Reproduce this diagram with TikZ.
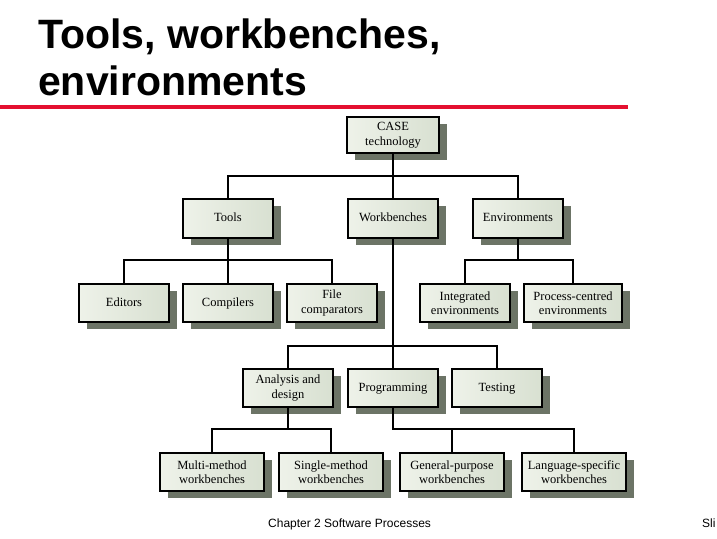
\documentclass[tikz,border=0pt]{standalone}
\usepackage{fontspec}
\setmainfont{Liberation Serif}
\newfontfamily\sansfont{Liberation Sans}
\usetikzlibrary{shadows}
\definecolor{boxL}{RGB}{238,242,233}
\definecolor{boxR}{RGB}{216,224,209}
\definecolor{shadowc}{RGB}{108,116,102}
\definecolor{titlered}{RGB}{228,16,48}
\tikzset{
  box/.style={draw=black, line width=1.3pt, left color=boxL, right color=boxR,
    minimum height=38pt, inner sep=2pt, align=center,
    font=\fontsize{12.5}{14.5}\selectfont,
    drop shadow={shadow xshift=8pt, shadow yshift=-7pt, fill=shadowc, opacity=1}},
  oneline/.style={text height=9pt, text depth=2.5pt},
  conn/.style={draw=black, line width=1.3pt},
  titletext/.style={anchor=base west, inner sep=0pt, font=\sansfont\bfseries\fontsize{41}{47}\selectfont},
  foot/.style={anchor=base west, inner sep=0pt, font=\sansfont\fontsize{12}{14}\selectfont}
}
\begin{document}
\begin{tikzpicture}[x=1pt,y=-1pt]
\useasboundingbox (0,0) rectangle (717,538);
\fill[white] (0,0) rectangle (717,538);
% title
\node[titletext] (t1) at (38,48) {Tools, workbenches,};
\node[titletext] (t2) at (38,95) {environments};
\fill[titlered] (0,105) rectangle (628,109);
% boxes
\node[box, minimum width=92pt, minimum height=36pt] (case) at (393,135) {CASE\\technology};
\node[box, oneline, minimum width=90pt, minimum height=39pt] (tools) at (228,218.5) {Tools};
\node[box, oneline, minimum width=90pt, minimum height=39pt] (wb) at (393,218.5) {Workbenches};
\node[box, oneline, minimum width=90pt, minimum height=39pt] (env) at (518,218.5) {Environments};
\node[box, oneline, minimum width=90pt] (editors) at (124,303) {Editors};
\node[box, oneline, minimum width=90pt] (comp) at (228,303) {Compilers};
\node[box, minimum width=90pt] (filec) at (332,303) {File\\comparators};
\node[box, minimum width=90pt] (integ) at (465,303) {Integrated\\environments};
\node[box, minimum width=98pt] (proc) at (573,303) {Process-centred\\environments};
\node[box, minimum width=90pt] (anal) at (288,388) {Analysis and\\design};
\node[box, oneline, minimum width=90pt] (prog) at (393,388) {Programming};
\node[box, oneline, minimum width=90pt] (test) at (497,388) {Testing};
\node[box, minimum width=104pt] (multi) at (212,472) {Multi-method\\workbenches};
\node[box, minimum width=104pt] (single) at (331,472) {Single-method\\workbenches};
\node[box, minimum width=104pt] (gen) at (452,472) {General-purpose\\workbenches};
\node[box, minimum width=104pt] (lang) at (574,472) {Language-specific\\workbenches};
% levels
\coordinate (la) at (0,176);
\coordinate (lb) at (0,260);
\coordinate (lc) at (0,346);
\coordinate (ld) at (0,429);
% connectors
\draw[conn] (case.south) -- (case.south |- la);
\draw[conn] (tools.north) -- (tools.north |- la) -- (env.north |- la) -- (env.north);
\draw[conn] (wb.north) -- (wb.north |- la);
\draw[conn] (tools.south) -- (tools.south |- lb);
\draw[conn] (editors.north) -- (editors.north |- lb) -- (filec.north |- lb) -- (filec.north);
\draw[conn] (comp.north) -- (comp.north |- lb);
\draw[conn] (env.south) -- (env.south |- lb);
\draw[conn] (integ.north) -- (integ.north |- lb) -- (proc.north |- lb) -- (proc.north);
\draw[conn] (wb.south) -- (wb.south |- lc);
\draw[conn] (anal.north) -- (anal.north |- lc) -- (test.north |- lc) -- (test.north);
\draw[conn] (prog.north) -- (prog.north |- lc);
\draw[conn] (anal.south) -- (anal.south |- ld);
\draw[conn] (multi.north) -- (multi.north |- ld) -- (single.north |- ld) -- (single.north);
\draw[conn] (prog.south) -- (prog.south |- ld) -- (lang.north |- ld) -- (lang.north);
\draw[conn] (gen.north) -- (gen.north |- ld);
% footer
\node[foot] (footer) at (268,527) {Chapter 2 Software Processes};
\node[foot] (slide) at (702,527) {Sli};
\end{tikzpicture}
\end{document}
